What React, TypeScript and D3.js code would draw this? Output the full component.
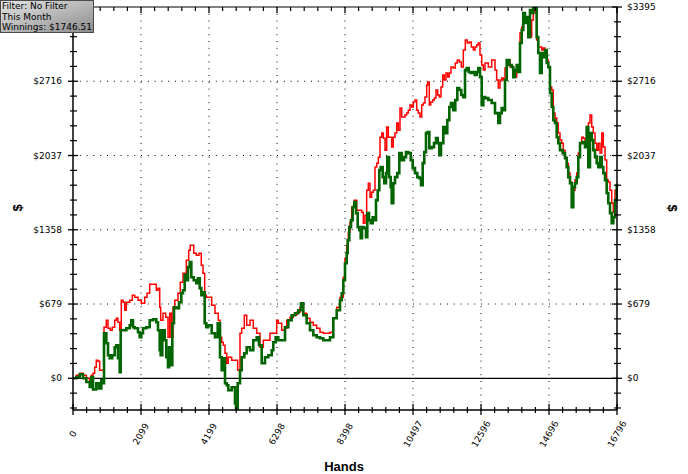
import React from "react";
import * as d3 from "d3";

// ---- data (hands, dollars) ----
const greenSeries: [number, number][] = [
  [0,0],[102,12],[207,37],[309,0],[411,-34],[516,-80],[565,12],[618,-101],[719,-46],[803,-92],[874,-18],[926,-46],
  [957,412],[1028,320],[1081,210],[1133,183],[1213,210],[1287,284],[1337,302],[1389,183],[1442,55],[1473,439],
  [1544,439],[1646,458],[1751,485],[1800,531],[1853,467],[1905,458],[2007,421],[2059,375],[2109,412],[2161,458],
  [2263,467],[2368,531],[2470,540],[2572,512],[2624,439],[2677,256],[2708,210],[2757,439],[2831,348],[2881,192],
  [2933,101],[2964,284],[3016,119],[3066,503],[3118,650],[3189,641],[3273,695],[3344,778],[3396,805],[3449,943],
  [3498,897],[3551,1016],[3603,1062],[3653,924],[3727,897],[3807,869],[3859,915],[3912,824],[3961,760],[4014,787],
  [4066,503],[4116,467],[4168,485],[4282,412],[4384,375],[4468,503],[4539,192],[4591,73],[4640,183],[4693,-46],
  [4746,-64],[4795,-110],[4900,-82],[5002,-229],[5033,-275],[5085,-46],[5156,73],[5208,192],[5289,229],[5363,284],
  [5465,256],[5567,348],[5672,375],[5743,302],[5826,137],[5928,192],[6030,210],[6135,256],[6184,329],[6258,375],
  [6339,348],[6444,348],[6546,467],[6647,531],[6752,577],[6854,595],[6956,622],[7040,686],[7111,577],[7215,503],
  [7317,439],[7419,393],[7524,375],[7626,366],[7728,348],[7833,348],[7935,375],[8037,549],[8142,622],[8244,714],
  [8296,778],[8346,897],[8398,1052],[8451,1144],[8481,1263],[8531,1382],[8583,1446],[8636,1565],[8685,1611],
  [8738,1510],[8790,1382],[8840,1354],[8883,1281],[8923,1382],[8985,1373],[9046,1290],[9087,1510],[9139,1446],
  [9192,1418],[9253,1473],[9293,1446],[9355,1629],[9408,1720],[9457,1903],[9500,1931],[9562,1839],[9611,1784],
  [9664,1876],[9704,2022],[9757,1839],[9809,1748],[9840,1601],[9889,1784],[9942,1839],[10013,1876],[10075,2059],
  [10149,1995],[10220,2022],[10281,2068],[10352,2059],[10427,1995],[10488,1922],[10559,1876],[10630,1839],
  [10692,1830],[10745,1766],[10797,1967],[10846,2068],[10899,2242],[10951,2251],[11001,2105],[11075,2114],
  [11146,2150],[11208,2196],[11260,2150],[11309,2041],[11362,2150],[11433,2297],[11495,2242],[11556,2361],
  [11618,2480],[11671,2517],[11742,2452],[11804,2544],[11865,2654],[11927,2636],[11989,2590],[12051,2571],
  [12103,2818],[12155,2837],[12217,2800],[12279,2791],[12341,2800],[12403,2773],[12464,2800],[12514,2837],
  [12566,2754],[12619,2498],[12668,2571],[12721,2562],[12823,2544],[12927,2517],[13029,2425],[13131,2334],
  [13184,2425],[13236,2471],[13286,2452],[13338,2727],[13391,2910],[13471,2864],[13545,2846],[13594,2754],
  [13647,2818],[13700,2864],[13749,2800],[13801,3066],[13854,3185],[13903,3340],[13955,3249],[14008,3303],
  [14057,3120],[14110,3368],[14162,3340],[14212,3386],[14264,3386],[14316,3120],[14366,2974],[14419,2791],
  [14471,2974],[14520,2937],[14573,3001],[14626,2883],[14675,2846],[14727,2608],[14780,2480],[14829,2361],
  [14882,2334],[14934,2205],[14984,2150],[15036,2086],[15119,2059],[15191,2013],[15243,1931],[15293,1839],
  [15345,1784],[15398,1565],[15447,1748],[15499,1784],[15552,1839],[15601,2022],[15654,2150],[15737,2160],
  [15808,2114],[15860,2297],[15910,1931],[15962,2242],[16015,2178],[16064,2086],[16117,2022],[16169,1967],
  [16219,1931],[16271,2022],[16324,1931],[16373,1876],[16426,1812],[16478,1693],[16528,1601],[16580,1510],
  [16633,1418],[16682,1473],[16734,1629],[16787,1766],[16796,1746.51],
];

const redSeries: [number, number][] = [
  [0,0],[102,27],[207,46],[309,27],[411,0],[516,-27],[565,27],[618,46],[669,101],[719,165],[772,156],[824,73],
  [874,73],[926,73],[957,467],[1028,531],[1081,458],[1152,439],[1213,467],[1287,531],[1337,549],[1389,512],
  [1442,439],[1491,714],[1544,695],[1596,622],[1646,695],[1751,714],[1831,760],[1905,741],[2007,714],[2109,686],
  [2214,741],[2285,778],[2368,860],[2470,860],[2572,805],[2624,824],[2677,650],[2708,531],[2779,595],[2862,558],
  [2933,375],[2985,595],[3035,375],[3088,650],[3140,714],[3242,778],[3313,878],[3396,961],[3498,1080],[3572,1171],
  [3621,1217],[3683,1217],[3727,1144],[3807,1126],[3890,1144],[3961,1034],[4014,961],[4066,760],[4116,741],
  [4168,741],[4282,668],[4384,595],[4486,531],[4539,375],[4591,329],[4640,302],[4693,229],[4746,137],[4795,192],
  [4900,165],[5002,165],[5085,73],[5156,412],[5208,458],[5289,577],[5363,485],[5465,531],[5567,458],[5672,412],
  [5774,284],[5876,348],[5979,348],[6082,412],[6184,412],[6288,531],[6339,503],[6444,439],[6536,458],[6598,531],
  [6700,558],[6802,577],[6906,604],[7009,650],[7111,595],[7215,549],[7317,512],[7419,485],[7524,458],[7626,421],
  [7728,412],[7833,412],[7935,421],[8037,549],[8142,650],[8244,741],[8346,924],[8398,1098],[8451,1217],[8500,1336],
  [8552,1428],[8605,1565],[8685,1629],[8759,1537],[8840,1537],[8914,1519],[8964,1418],[9015,1491],[9067,1720],
  [9118,1784],[9170,1656],[9220,1702],[9272,1720],[9324,1931],[9377,1967],[9427,2022],[9479,2205],[9532,2242],
  [9582,2196],[9634,2086],[9685,2297],[9735,2205],[9787,2205],[9840,2114],[9889,2205],[9942,2242],[9994,2334],
  [10044,2269],[10096,2471],[10149,2389],[10198,2389],[10251,2407],[10303,2425],[10352,2452],[10405,2498],
  [10457,2480],[10507,2526],[10559,2544],[10612,2452],[10661,2425],[10714,2389],[10766,2498],[10816,2517],
  [10868,2571],[10921,2681],[10951,2709],[11001,2498],[11044,2526],[11106,2544],[11155,2562],[11208,2636],
  [11260,2590],[11309,2571],[11362,2663],[11414,2773],[11464,2727],[11516,2791],[11569,2754],[11618,2791],
  [11671,2846],[11742,2837],[11804,2883],[11865,2910],[11927,2892],[11989,2846],[12051,3001],[12113,3093],
  [12174,3065],[12236,3075],[12298,3029],[12360,3001],[12412,3029],[12464,3047],[12514,3065],[12566,2956],
  [12619,2864],[12668,2818],[12721,2883],[12823,2846],[12927,2910],[13029,2818],[13080,2727],[13131,2654],
  [13184,2727],[13236,2745],[13286,2727],[13338,2837],[13391,2910],[13494,2846],[13594,2754],[13700,2864],
  [13749,2800],[13801,3157],[13854,3212],[13903,3276],[14008,3249],[14057,3185],[14110,3120],[14162,3276],
  [14212,3368],[14264,3340],[14316,3093],[14366,3029],[14419,3029],[14471,3001],[14520,3020],[14573,2974],
  [14626,2910],[14675,2846],[14727,2663],[14780,2636],[14829,2425],[14882,2380],[14934,2334],[14984,2242],
  [15036,2178],[15089,2150],[15138,2086],[15191,2022],[15243,1967],[15293,1876],[15345,1794],[15398,1748],
  [15447,1720],[15499,1812],[15552,1876],[15601,2059],[15654,2150],[15706,2205],[15756,2196],[15808,2150],
  [15860,2297],[15910,2334],[15962,2407],[16015,2297],[16064,2242],[16117,2150],[16169,2086],[16219,2150],
  [16271,2059],[16324,2242],[16373,2114],[16426,1995],[16478,1812],[16528,1794],[16580,1720],[16633,1601],
  [16682,1519],[16734,1720],[16787,1702],[16796,1693],
];

const xTickValues = [0, 2099.5, 4199, 6298.5, 8398, 10497.5, 12597, 14696.5, 16796];
const xTickLabels = ["0", "2099", "4199", "6298", "8398", "10497", "12596", "14696", "16796"];
const yTickValues = [0, 679, 1358, 2037, 2716, 3395];
const yTickLabels = ["$0", "$679", "$1358", "$2037", "$2716", "$3395"];
const legendLines = ["Filter: No Filter", "This Month", "Winnings: $1746.51"];
const xDomain = [0, 16796];
const yDomain = [-290, 3395];

const W = 688, H = 474;
const L = 73, R = 617, T = 7, B = 410;
const FONT = "'DejaVu Sans', Verdana, sans-serif";
const BOLD = "'Liberation Sans', Arial, sans-serif";

export default function App() {
  const x = d3.scaleLinear().domain(xDomain).range([L, R]);
  const y = d3.scaleLinear().domain(yDomain).range([B, T]);
  const line = d3
    .line<[number, number]>()
    .x((d) => x(d[0]))
    .y((d) => y(d[1]))
    .curve(d3.curveStepAfter);

  const xStep = xTickValues[1] - xTickValues[0];
  const xMinor: number[] = [];
  for (let i = 0; i < xTickValues.length - 1; i++)
    for (let k = 1; k < 5; k++) xMinor.push(xTickValues[i] + (k * xStep) / 5);
  const yStep = yTickValues[1] - yTickValues[0];
  const yMinor: number[] = [];
  for (let v = -yStep / 5; v >= yDomain[0]; v -= yStep / 5) yMinor.push(v);
  for (let i = 0; i < yTickValues.length - 1; i++)
    for (let k = 1; k < 5; k++) yMinor.push(yTickValues[i] + (k * yStep) / 5);

  return (
    <svg width={W} height={H} style={{ position: "absolute", left: 0, top: 0, background: "#fff" }}>
      <defs>
        <linearGradient id="lg" x1="0" y1="0" x2="1" y2="1">
          <stop offset="0" stopColor="#e4e4e4" />
          <stop offset="1" stopColor="#8c8c8c" />
        </linearGradient>
      </defs>
      <rect x={0} y={0} width={W} height={H} fill="#fff" />
      {/* dotted grid */}
      {xTickValues.slice(1, -1).map((v, i) => (
        <line key={"gx" + i} x1={x(v)} x2={x(v)} y1={T} y2={B} stroke="#000" strokeWidth={1} strokeDasharray="1,5.8" />
      ))}
      {yTickValues.slice(1, -1).map((v, i) => (
        <line key={"gy" + i} x1={L} x2={R} y1={y(v)} y2={y(v)} stroke="#000" strokeWidth={1} strokeDasharray="1,5.8" />
      ))}
      {/* zero line */}
      <line x1={L} x2={R} y1={y(0)} y2={y(0)} stroke="#000" strokeWidth={1.2} />
      {/* series */}
      <path d={line(redSeries) || ""} fill="none" stroke="#ff0000" strokeWidth={1.5} />
      <path d={line(greenSeries) || ""} fill="none" stroke="#006400" strokeWidth={2.6} />
      {/* frame */}
      <line x1={L} x2={R} y1={T} y2={T} stroke="#000" strokeWidth={1.2} />
      <line x1={L} x2={R} y1={B} y2={B} stroke="#000" strokeWidth={1.5} />
      <line x1={L} x2={L} y1={T} y2={B} stroke="#000" strokeWidth={1.5} />
      <line x1={R} x2={R} y1={T} y2={B} stroke="#000" strokeWidth={1.5} />
      {/* x ticks */}
      {xTickValues.map((v, i) => (
        <g key={"xt" + i}>
          <line x1={x(v)} x2={x(v)} y1={B - 6} y2={B + 5} stroke="#000" strokeWidth={1.3} />
          <line x1={x(v)} x2={x(v)} y1={T} y2={T + 6} stroke="#000" strokeWidth={1.3} />
          <text
            transform={`translate(${x(v)},434) rotate(-60)`}
            textAnchor="middle"
            dominantBaseline="central"
            fontFamily={FONT}
            fontSize={9}
            fill="#000"
          >
            {xTickLabels[i]}
          </text>
        </g>
      ))}
      {xMinor.map((v, i) => (
        <g key={"xm" + i}>
          <line x1={x(v)} x2={x(v)} y1={B - 3} y2={B + 3} stroke="#000" strokeWidth={1.2} />
          <line x1={x(v)} x2={x(v)} y1={T} y2={T + 4} stroke="#000" strokeWidth={1.2} />
        </g>
      ))}
      {/* y ticks */}
      {yTickValues.map((v, i) => (
        <g key={"yt" + i}>
          <line x1={L - 5} x2={L + 5} y1={y(v)} y2={y(v)} stroke="#000" strokeWidth={1.3} />
          <line x1={R - 5} x2={R + 5} y1={y(v)} y2={y(v)} stroke="#000" strokeWidth={1.3} />
          {i < yTickValues.length - 1 && (
            <text x={62} y={y(v)} textAnchor="end" dominantBaseline="central" fontFamily={FONT} fontSize={9} fill="#000">
              {yTickLabels[i]}
            </text>
          )}
          <text x={627} y={y(v)} textAnchor="start" dominantBaseline="central" fontFamily={FONT} fontSize={9} fill="#000">
            {yTickLabels[i]}
          </text>
        </g>
      ))}
      {yMinor.map((v, i) => (
        <g key={"ym" + i}>
          <line x1={L - 3} x2={L + 4} y1={y(v)} y2={y(v)} stroke="#000" strokeWidth={1.2} />
          <line x1={R - 3} x2={R + 4} y1={y(v)} y2={y(v)} stroke="#000" strokeWidth={1.2} />
        </g>
      ))}
      {/* axis titles */}
      <text x={344} y={470.5} textAnchor="middle" fontFamily={BOLD} fontWeight="bold" fontSize={13} fill="#000">
        Hands
      </text>
      <text transform="translate(17,208) rotate(-90)" textAnchor="middle" dominantBaseline="central" fontFamily={BOLD} fontWeight="bold" fontSize={13} fill="#000">
        $
      </text>
      <text transform="translate(672,208) rotate(90)" textAnchor="middle" dominantBaseline="central" fontFamily={BOLD} fontWeight="bold" fontSize={13} fill="#000">
        $
      </text>
      {/* legend box */}
      <rect x={0.5} y={0.5} width={93} height={32} fill="url(#lg)" stroke="#4a4a4a" strokeWidth={1} />
      {legendLines.map((t, i) => (
        <text key={"lg" + i} x={2} y={9 + i * 10.5} fontFamily={FONT} fontSize={9} fill="#000">
          {t}
        </text>
      ))}
    </svg>
  );
}
